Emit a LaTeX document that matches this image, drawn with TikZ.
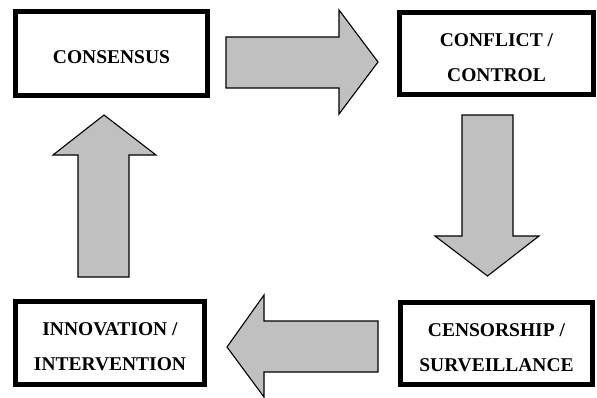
\documentclass[tikz,border=0pt]{standalone}
\usepackage{fontspec}
\setmainfont{Liberation Serif}
\begin{document}
\begin{tikzpicture}[x=1pt,y=-1pt,
  box/.style={draw=black,line width=5pt,fill=white,inner sep=0pt},
  txt/.style={font=\fontsize{19.5}{35}\selectfont\bfseries,align=center,inner sep=0pt},
  blockarrow/.style={draw=black,line width=1.1pt,fill=arrowgray,line join=miter}]
\definecolor{arrowgray}{RGB}{192,192,192}
\useasboundingbox (0,0) rectangle (597,397);
% boxes
\node[box,minimum width=192pt,minimum height=84pt] (consensus) at (111.5,53.5) {};
\node[box,minimum width=194pt,minimum height=82pt] (conflict) at (496.5,53.5) {};
\node[box,minimum width=189pt,minimum height=83pt] (innovation) at (110,343) {};
\node[box,minimum width=192pt,minimum height=82pt] (censorship) at (496.5,343.5) {};
% texts
\node[txt] (t1) at ([yshift=-3.5pt]consensus.center) {CONSENSUS};
\node[txt] (t2) at ([yshift=-4pt]conflict.center) {CONFLICT /\\CONTROL};
\node[txt] (t3) at ([yshift=-4pt]innovation.center) {INNOVATION /\\INTERVENTION};
\node[txt] (t4) at ([yshift=-4pt]censorship.center) {CENSORSHIP /\\SURVEILLANCE};
% block arrows
\draw[blockarrow] (226,37) -- (339,37) -- (339,10) -- (378,62) -- (339,114) -- (339,88) -- (226,88) -- cycle;
\draw[blockarrow] (462,115) -- (513,115) -- (513,236) -- (539,236) -- (487.5,276) -- (435,236) -- (462,236) -- cycle;
\draw[blockarrow] (378,321) -- (264,321) -- (264,295) -- (227,347) -- (264,397) -- (264,372) -- (378,372) -- cycle;
\draw[blockarrow] (78,277) -- (78,155) -- (53,155) -- (104,115) -- (156,155) -- (129,155) -- (129,277) -- cycle;
\end{tikzpicture}
\end{document}
